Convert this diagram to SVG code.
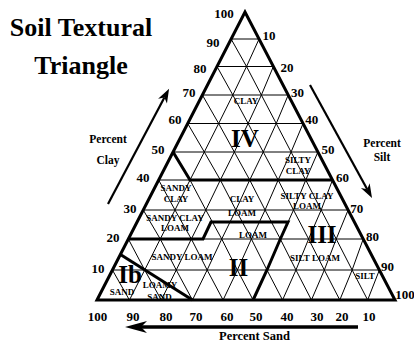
<svg xmlns="http://www.w3.org/2000/svg" width="414" height="343" viewBox="0 0 414 343">
<defs>
<style>
.g{fill:none;stroke:#000;stroke-width:1}
.thick{fill:none;stroke:#000;stroke-width:3;stroke-linejoin:miter}
.ol{fill:none;stroke:#000;stroke-width:3;stroke-linejoin:miter}
text{font-family:"Liberation Serif","Times New Roman",serif;font-weight:bold;fill:#000}
.ttl{font-size:26px;text-anchor:middle}
.num{font-size:13px;text-anchor:middle}
.ax{font-size:11.5px;text-anchor:middle}
.r{font-size:9px;text-anchor:middle}
.rn{font-size:25px;text-anchor:middle}
.arr{fill:none;stroke:#000}
</style>
<marker id="hs" markerUnits="userSpaceOnUse" markerWidth="20" markerHeight="12" refX="4" refY="5" orient="auto" overflow="visible">
<path d="M0,0 L14,5 L0,10 L4,5 Z" fill="#000"/>
</marker>
<marker id="hb" markerUnits="userSpaceOnUse" markerWidth="26" markerHeight="14" refX="6" refY="6" orient="auto" overflow="visible">
<path d="M0,0 L22,6 L0,12 L6,6 Z" fill="#000"/>
</marker>
</defs>
<rect width="414" height="343" fill="#fff"/>

<g id="title">
<text class="ttl" x="81" y="36">Soil Textural</text>
<text class="ttl" x="81" y="74">Triangle</text>
</g>

<g id="grid" class="g">
<line x1="112.42" y1="270" x2="379.38" y2="270"/>
<line x1="128.35" y1="239" x2="363.23" y2="239"/>
<line x1="143.25" y1="210" x2="348.13" y2="210"/>
<line x1="158.67" y1="180" x2="332.5" y2="180"/>
<line x1="173.06" y1="152" x2="317.92" y2="152"/>
<line x1="187.7" y1="123.5" x2="303.07" y2="123.5"/>
<line x1="202.35" y1="95" x2="288.23" y2="95"/>
<line x1="216.99" y1="66.5" x2="273.39" y2="66.5"/>
<line x1="231.12" y1="39" x2="259.06" y2="39"/>
<polyline points="367.66,300 352.14,270 336.23,239 321.17,210 305.76,180 291.09,152 276.24,123.5 261.39,95 246.53,66.5 231.12,39"/>
<polyline points="339.81,300 324.34,270 308.61,239 293.5,210 278.18,180 263.26,152 248.13,123.5 232.82,95 216.99,66.5"/>
<polyline points="311.45,300 295.96,270 280.33,239 265.07,210 249.72,180 234.35,152 218.65,123.5 202.35,95"/>
<polyline points="282.55,300 266.98,270 251.38,239 235.87,210 220.35,180 204.3,152 187.7,123.5"/>
<polyline points="253.1,300 237.38,270 221.74,239 205.85,210 190.02,180 173.06,152"/>
<polyline points="223.08,300 207.15,270 191.37,239 174.99,210 158.67,180"/>
<polyline points="192.48,300 176.26,270 160.25,239 143.25,210"/>
<polyline points="161.27,300 144.69,270 128.35,239"/>
<polyline points="129.45,300 112.42,270"/>
<polyline points="129.45,300 144.69,270 160.25,239 174.99,210 190.02,180 204.3,152 218.65,123.5 232.82,95 246.53,66.5 259.06,39"/>
<polyline points="161.27,300 176.26,270 191.37,239 205.85,210 220.35,180 234.35,152 248.13,123.5 261.39,95 273.39,66.5"/>
<polyline points="192.48,300 207.15,270 221.74,239 235.87,210 249.72,180 263.26,152 276.24,123.5 288.23,95"/>
<polyline points="223.08,300 237.38,270 251.38,239 265.07,210 278.18,180 291.09,152 303.07,123.5"/>
<polyline points="253.1,300 266.98,270 280.33,239 293.5,210 305.76,180 317.92,152"/>
<polyline points="282.55,300 295.96,270 308.61,239 321.17,210 332.5,180"/>
<polyline points="311.45,300 324.34,270 336.23,239 348.13,210"/>
<polyline points="339.81,300 352.14,270 363.23,239"/>
<polyline points="367.66,300 379.38,270"/>
</g>

<g id="outline">
<polygon class="ol" points="97,300 245,12 395,300"/>
</g>

<g id="boundaries" class="thick">
<polyline points="173.06,152 190.02,180 332.5,180"/>
<polyline points="128.35,239 203,239 211,222 288,222 280.33,239 266.98,270 253.1,300"/>
<polyline points="120.4,254.5 192.48,300"/>
</g>

<g id="clay-scale">
<text class="num" x="224" y="18">100</text>
<text class="num" x="213" y="46.5">90</text>
<text class="num" x="200" y="72.5">80</text>
<text class="num" x="189" y="96.5">70</text>
<text class="num" x="175" y="123.5">60</text>
<text class="num" x="158" y="153.5">50</text>
<text class="num" x="143" y="181.5">40</text>
<text class="num" x="130" y="212.5">30</text>
<text class="num" x="113" y="241.5">20</text>
<text class="num" x="98" y="272.5">10</text>
</g>

<g id="silt-scale">
<text class="num" x="269" y="39.5">10</text>
<text class="num" x="287" y="71.5">20</text>
<text class="num" x="297.5" y="96.5">30</text>
<text class="num" x="311.7" y="124">40</text>
<text class="num" x="328" y="154">50</text>
<text class="num" x="342.5" y="182">60</text>
<text class="num" x="356.7" y="213">70</text>
<text class="num" x="372.5" y="241">80</text>
<text class="num" x="387.5" y="271">90</text>
<text class="num" x="405" y="298.5">100</text>
</g>

<g id="sand-scale">
<text class="num" x="97.5" y="320.5">100</text>
<text class="num" x="133" y="320.5">90</text>
<text class="num" x="166" y="320.5">80</text>
<text class="num" x="196" y="320.5">70</text>
<text class="num" x="227" y="320.5">60</text>
<text class="num" x="256" y="320.5">50</text>
<text class="num" x="287" y="320.5">40</text>
<text class="num" x="317" y="320.5">30</text>
<text class="num" x="342" y="320.5">20</text>
<text class="num" x="369" y="320.5">10</text>
</g>

<g id="axis-arrows" class="arr">
<line x1="108" y1="204" x2="164.4" y2="97.6" stroke-width="2.2" marker-end="url(#hs)"/>
<line x1="310" y1="85" x2="367.2" y2="189.2" stroke-width="2.2" marker-end="url(#hs)"/>
<line x1="358" y1="327" x2="141" y2="327" stroke-width="3.6" marker-end="url(#hb)"/>
</g>

<g id="axis-titles">
<text class="ax" x="108" y="142.5">Percent</text>
<text class="ax" x="108" y="163.5">Clay</text>
<text class="ax" x="382" y="147">Percent</text>
<text class="ax" x="382" y="160.5">Silt</text>
<text class="ax" x="254.5" y="339.5" style="font-size:12.5px">Percent Sand</text>
</g>

<g id="regions">
<text class="r" x="246" y="104">CLAY</text>
<text class="rn" x="245" y="147.3">IV</text>
<text class="r" x="298" y="162.5">SILTY</text>
<text class="r" x="298" y="173.5">CLAY</text>
<text class="r" x="176" y="190.5">SANDY</text>
<text class="r" x="176" y="202">CLAY</text>
<text class="r" x="242" y="202.3">CLAY</text>
<text class="r" x="242" y="215.7">LOAM</text>
<text class="r" x="307" y="198.5">SILTY CLAY</text>
<text class="r" x="307" y="208.5">LOAM</text>
<text class="r" x="175" y="221.3">SANDY CLAY</text>
<text class="r" x="175" y="231.3">LOAM</text>
<text class="r" x="253" y="238">LOAM</text>
<text class="rn" x="322" y="242.7">III</text>
<text class="r" x="315" y="261.3">SILT LOAM</text>
<text class="r" x="365" y="279">SILT</text>
<text class="rn" x="238.5" y="275.5">II</text>
<text class="r" x="182" y="260.3">SANDY LOAM</text>
<text class="rn" x="130" y="283">Ib</text>
<text class="r" x="122" y="295">SAND</text>
<text class="r" x="160" y="288">LOAMY</text>
<text class="r" x="159.5" y="299.5">SAND</text>
</g>
</svg>
